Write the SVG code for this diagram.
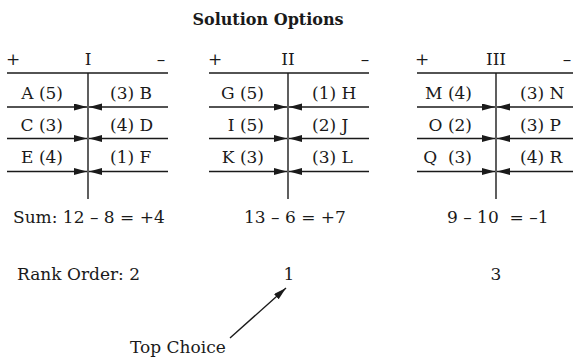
<svg xmlns="http://www.w3.org/2000/svg" width="573" height="359" viewBox="0 0 573 359">
<style>
text{font-family:"DejaVu Serif","Liberation Serif",serif;font-size:17px;fill:#1a1a1a}
.t{font-weight:bold;font-size:16px}
.e{text-anchor:end}
.m{text-anchor:middle}
.ln{stroke:#1a1a1a;stroke-width:1.4;fill:none}
.ar{stroke:#1a1a1a;stroke-width:1.4;fill:none;marker-end:url(#ah)}
</style>
<defs>
<marker id="ah" markerUnits="userSpaceOnUse" markerWidth="14" markerHeight="8" refX="13" refY="3.5" orient="auto">
<path d="M0,0 L13,3.5 L0,7 z" fill="#1a1a1a"/>
</marker>
</defs>
<rect width="573" height="359" fill="#fff"/>
<text class="t m" x="268" y="25">Solution Options</text>

<g id="panel-I">
<line class="ln" x1="7" y1="73" x2="168" y2="73"/>
<line class="ln" x1="88" y1="73" x2="88" y2="199"/>
<text class="m" x="13" y="65">+</text>
<text class="m" x="88" y="65">I</text>
<text class="m" x="161" y="65">–</text>
<text class="e" x="63" y="99">A (5)</text>
<text x="110" y="99">(3) B</text>
<text class="e" x="63" y="131">C (3)</text>
<text x="110" y="131">(4) D</text>
<text class="e" x="63" y="163">E (4)</text>
<text x="110" y="163">(1) F</text>
</g>

<g id="panel-II">
<line class="ln" x1="209" y1="73" x2="369" y2="73"/>
<line class="ln" x1="288" y1="73" x2="288" y2="199"/>
<text class="m" x="215" y="65">+</text>
<text class="m" x="288" y="65">II</text>
<text class="m" x="365" y="65">–</text>
<text class="e" x="264" y="99">G (5)</text>
<text x="312" y="99">(1) H</text>
<text class="e" x="264" y="131">I (5)</text>
<text x="312" y="131">(2) J</text>
<text class="e" x="264" y="163">K (3)</text>
<text x="312" y="163">(3) L</text>
</g>

<g id="panel-III">
<line class="ln" x1="417" y1="73" x2="573" y2="73"/>
<line class="ln" x1="496" y1="73" x2="496" y2="199"/>
<text class="m" x="422" y="65">+</text>
<text class="m" x="496" y="65">III</text>
<text class="m" x="567" y="65">–</text>
<text class="e" x="472" y="99">M (4)</text>
<text x="520" y="99">(3) N</text>
<text class="e" x="472" y="131">O (2)</text>
<text x="520" y="131">(3) P</text>
<text class="e" x="472" y="163" xml:space="preserve">Q  (3)</text>
<text x="520" y="163">(4) R</text>
</g>

<g id="connectors">
<line class="ar" x1="7" y1="107" x2="87" y2="107"/>
<line class="ar" x1="168" y1="107" x2="89" y2="107"/>
<line class="ar" x1="7" y1="138.5" x2="87" y2="138.5"/>
<line class="ar" x1="168" y1="138.5" x2="89" y2="138.5"/>
<line class="ar" x1="7" y1="171.5" x2="87" y2="171.5"/>
<line class="ar" x1="168" y1="171.5" x2="89" y2="171.5"/>
<line class="ar" x1="209" y1="107" x2="287" y2="107"/>
<line class="ar" x1="369" y1="107" x2="289" y2="107"/>
<line class="ar" x1="209" y1="138.5" x2="287" y2="138.5"/>
<line class="ar" x1="369" y1="138.5" x2="289" y2="138.5"/>
<line class="ar" x1="209" y1="171.5" x2="287" y2="171.5"/>
<line class="ar" x1="369" y1="171.5" x2="289" y2="171.5"/>
<line class="ar" x1="417" y1="107" x2="495" y2="107"/>
<line class="ar" x1="573" y1="107" x2="497" y2="107"/>
<line class="ar" x1="417" y1="138.5" x2="495" y2="138.5"/>
<line class="ar" x1="573" y1="138.5" x2="497" y2="138.5"/>
<line class="ar" x1="417" y1="171.5" x2="495" y2="171.5"/>
<line class="ar" x1="573" y1="171.5" x2="497" y2="171.5"/>
<line class="ar" x1="230" y1="338" x2="286" y2="288"/>
</g>

<g id="sums">
<text x="13" y="223">Sum: 12 – 8 = +4</text>
<text x="244" y="223">13 – 6 = +7</text>
<text x="447" y="223" xml:space="preserve">9 – 10  = –1</text>
</g>
<g id="ranks">
<text x="17" y="280">Rank Order: 2</text>
<text class="m" x="289" y="280">1</text>
<text class="m" x="496" y="280">3</text>
</g>
<g id="top-choice">
<text x="130" y="353">Top Choice</text>
</g>
</svg>
